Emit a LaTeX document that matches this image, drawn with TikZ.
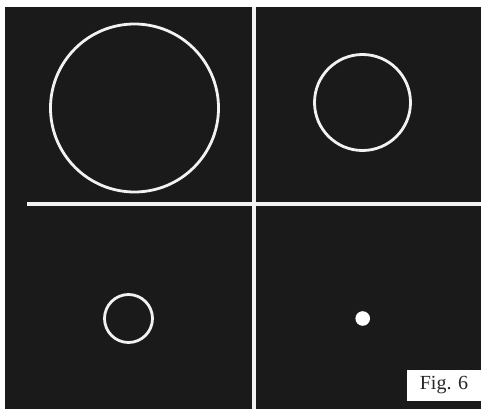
\documentclass[tikz,border=0pt]{standalone}
\usepackage{fontspec}
\setmainfont{Liberation Serif}
\definecolor{bgdark}{HTML}{1A1A1A}
\definecolor{linew}{HTML}{F2F2F2}
\begin{document}
\begin{tikzpicture}[x=1pt,y=-1pt,
  ring/.style={draw=linew,line width=2.8pt},
  divider/.style={draw=linew,line width=4pt},
  labelbox/.style={fill=white,minimum width=74pt,minimum height=31pt,inner sep=0pt,font=\fontsize{20}{22}\selectfont,text=black!85}]
\useasboundingbox (0,0) rectangle (481,409);
\fill[white] (0,0) rectangle (481,409);
\fill[bgdark] (5,7) rectangle (481,409);
\draw[divider] (254,7) -- (254,409);
\draw[divider] (27,204) -- (481,204);
\draw[ring] (134.5,108) circle (84);
\draw[ring] (362.5,102.5) circle (48);
\draw[ring] (128.5,318.5) circle (24);
\fill[white] (362.7,318.5) circle (7.3);
\node[labelbox] (fig) at (444,385.5) {Fig. 6};
\end{tikzpicture}
\end{document}
